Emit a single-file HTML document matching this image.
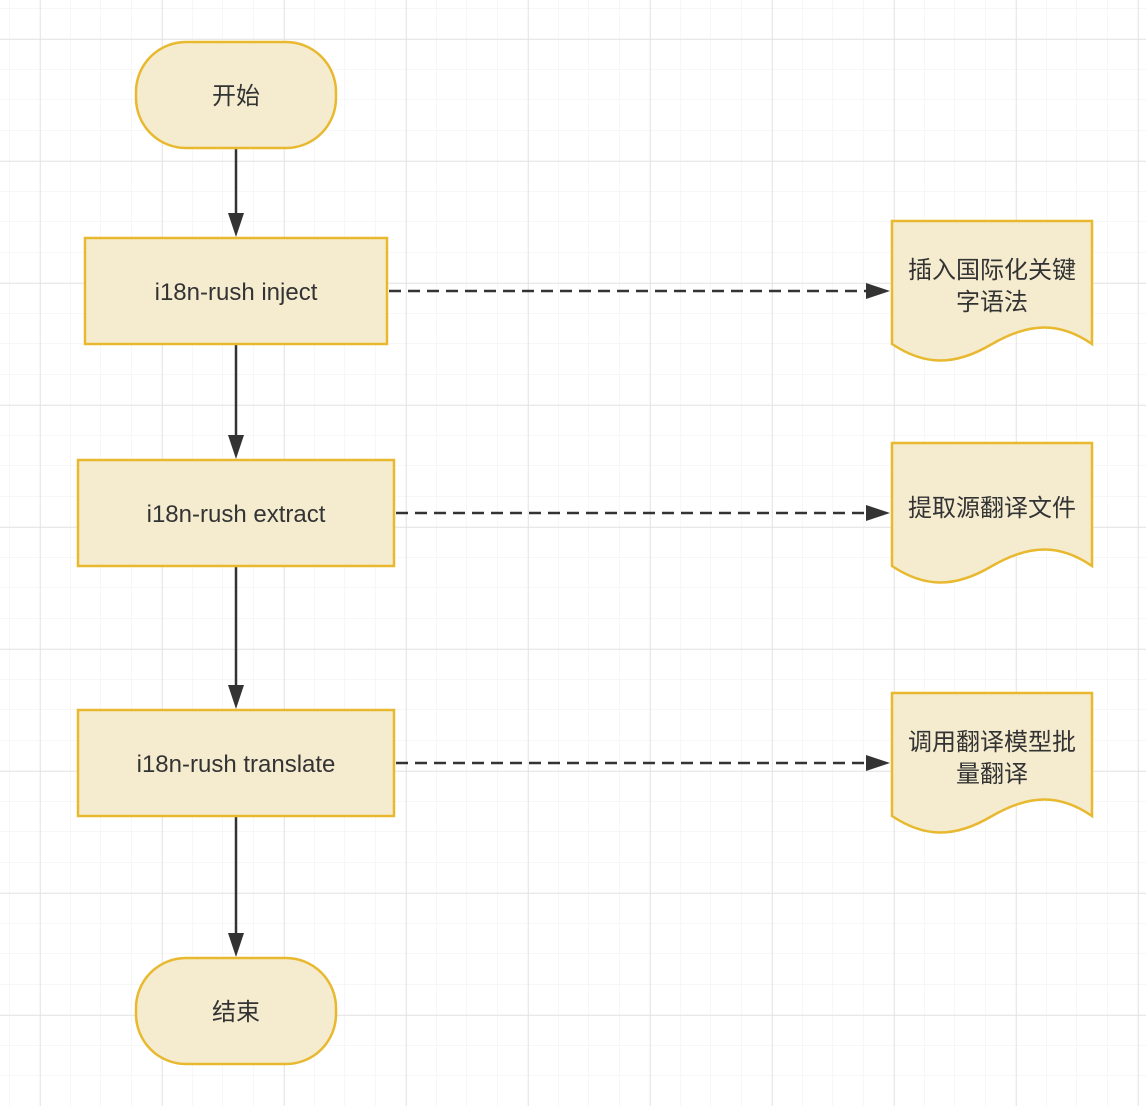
<!DOCTYPE html>
<html><head><meta charset="utf-8"><style>
body{margin:0;background:#fff;}
svg{display:block;}
text{font-family:"Liberation Sans","Noto Sans CJK SC",sans-serif;fill:#333;}
</style></head><body>
<svg width="1146" height="1106" xmlns="http://www.w3.org/2000/svg">
<defs>
<pattern id="minor" width="30.5" height="30.5" patternUnits="userSpaceOnUse" x="9.5" y="8.5">
<path d="M30.5 0V30.5M0 30.5H30.5" fill="none" stroke="#efefef" stroke-width="1"/>
</pattern>
<pattern id="major" width="122" height="122" patternUnits="userSpaceOnUse" x="40" y="39">
<path d="M0 0V122M0 0H122" fill="none" stroke="#e2e2e2" stroke-width="1.5"/>
</pattern>
<marker id="ar" markerWidth="10" markerHeight="10" refX="9" refY="5" orient="auto" markerUnits="userSpaceOnUse" viewBox="0 0 10 10">
</marker>
</defs>
<rect width="1146" height="1106" fill="url(#minor)"/>
<rect width="1146" height="1106" fill="url(#major)"/>

<g stroke="#333" stroke-width="2.5" fill="none">
<line x1="236" y1="149" x2="236" y2="215"/>
<line x1="236" y1="345" x2="236" y2="437"/>
<line x1="236" y1="567" x2="236" y2="687"/>
<line x1="236" y1="817" x2="236" y2="935"/>
<g stroke-dasharray="12 7">
<line x1="389" y1="291" x2="868" y2="291"/>
<line x1="396" y1="513" x2="868" y2="513"/>
<line x1="396" y1="763" x2="868" y2="763"/>
</g>
</g>
<g fill="#333">
<path d="M228 213L236 237L244 213Z"/>
<path d="M228 435L236 459L244 435Z"/>
<path d="M228 685L236 709L244 685Z"/>
<path d="M228 933L236 957L244 933Z"/>
<path d="M866 283L890 291L866 299Z"/>
<path d="M866 505L890 513L866 521Z"/>
<path d="M866 755L890 763L866 771Z"/>
</g>

<g fill="#f5ecd0" stroke="#e8b82e" stroke-width="2.5">
<rect x="136" y="42" width="200" height="106" rx="50" ry="50"/>
<rect x="85" y="238" width="302" height="106"/>
<rect x="78" y="460" width="316" height="106"/>
<rect x="78" y="710" width="316" height="106"/>
<rect x="136" y="958" width="200" height="106" rx="50" ry="50"/>
<path d="M892 221H1092V344C1060 322 1030 322 992 344C955 366 925 366 892 344Z"/>
<path d="M892 443H1092V566C1060 544 1030 544 992 566C955 588 925 588 892 566Z"/>
<path d="M892 693H1092V816C1060 794 1030 794 992 816C955 838 925 838 892 816Z"/>
</g>

<g font-size="24" text-anchor="middle">
<text x="236" y="104">开始</text>
<text x="236" y="300">i18n-rush inject</text>
<text x="236" y="522">i18n-rush extract</text>
<text x="236" y="772">i18n-rush translate</text>
<text x="236" y="1020">结束</text>
<text x="992" y="278">插入国际化关键</text>
<text x="992" y="310">字语法</text>
<text x="992" y="516">提取源翻译文件</text>
<text x="992" y="750">调用翻译模型批</text>
<text x="992" y="782">量翻译</text>
</g>
</svg>
</body></html>
